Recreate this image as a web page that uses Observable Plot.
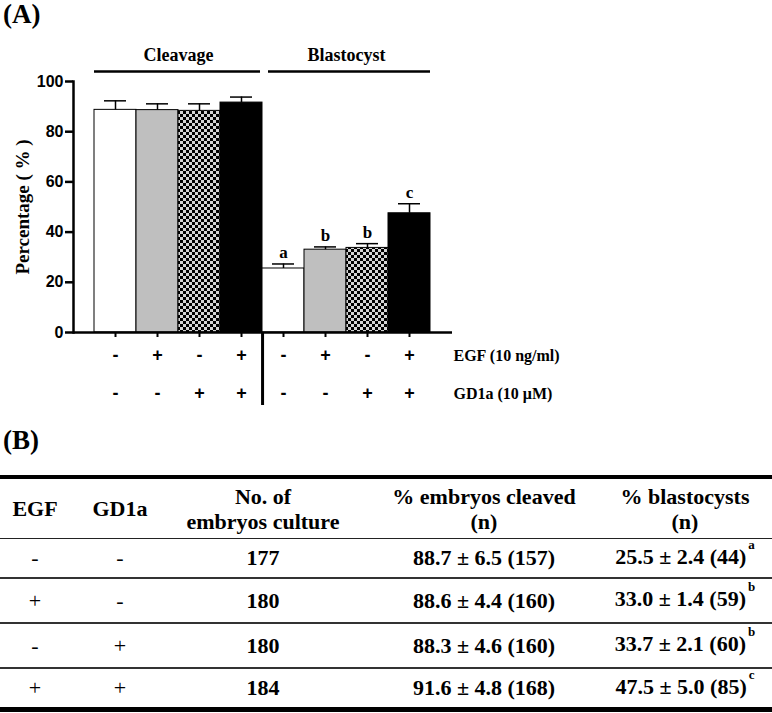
<!DOCTYPE html>
<html>
<head>
<meta charset="utf-8">
<script src="https://cdn.jsdelivr.net/npm/d3@7"></script>
<script src="https://cdn.jsdelivr.net/npm/@observablehq/plot@0.6"></script>
<style>
  html, body { margin: 0; padding: 0; background: #fff; }
  body { width: 772px; height: 713px; position: relative; overflow: hidden;
         font-family: "Liberation Serif", "Times New Roman", serif; color: #000; }
  .panel { position: absolute; left: 3px; font-weight: bold; font-size: 27px; line-height: 1; z-index: 2; }
  #chart { position: absolute; left: 0; top: 0; z-index: 1; }
  table { position: absolute; left: 0; top: 475px; width: 772px; border-collapse: separate;
          border-spacing: 0; table-layout: fixed; font-weight: bold; font-size: 22px; }
  th, td { padding: 0; text-align: center; vertical-align: middle; box-sizing: border-box; }
  thead th { border-top: 4px solid #000; border-bottom: 1.5px solid #222; line-height: 25px; font-weight: bold; }
  tbody td { border-bottom: 2px solid #333; line-height: 24px; }
  tbody tr:last-child td { border-bottom: 5px solid #000; }
  td.sign { font-weight: normal; }
  .lastcol { padding-right: 14px; }
  .sup { font-size: 13px; position: relative; top: -15px; margin-left: 2px; }
</style>
</head>
<body>
<div id="chart"></div>
<div class="panel" id="labA" style="top:1px">(A)</div>
<div class="panel" id="labB" style="top:427px">(B)</div>
<script>
// ---------------- Data ----------------
const groups = ["Cleavage", "Blastocyst"];
const egfSigns = ["-", "+", "-", "+"];
const gd1aSigns = ["-", "-", "+", "+"];
const treatments = ["control", "egf", "gd1a", "both"];
const cleavageMean = [88.7, 88.6, 88.3, 91.6];
const cleavageErr = [3.6, 2.5, 2.8, 2.2];
const blastMean = [25.5, 33.0, 33.7, 47.5];
const blastErr = [1.8, 1.1, 1.7, 3.8];
const blastLetters = ["a", "b", "b", "c"];
const yTicks = [0, 20, 40, 60, 80, 100];
const yLabel = "Percentage ( % )";
const rowLabels = ["EGF (10 ng/ml)", "GD1a (10 \u03bcM)"];

const tableHeaders = ["EGF", "GD1a", "No. of\nembryos culture", "% embryos cleaved\n(n)", "% blastocysts\n(n)"];
const tableEGF = ["-", "+", "-", "+"];
const tableGD1a = ["-", "-", "+", "+"];
const nCultured = [177, 180, 180, 184];
const cleavedPct = [88.7, 88.6, 88.3, 91.6];
const cleavedSD = [6.5, 4.4, 4.6, 4.8];
const cleavedN = [157, 160, 160, 168];
const blastPct = [25.5, 33.0, 33.7, 47.5];
const blastSD = [2.4, 1.4, 2.1, 5.0];
const blastN = [44, 59, 60, 85];
const blastSup = ["a", "b", "b", "c"];

// ---------------- Build rows ----------------
const keys = [], rows = [];
groups.forEach((g, gi) => {
  const means = gi === 0 ? cleavageMean : blastMean;
  const errs = gi === 0 ? cleavageErr : blastErr;
  egfSigns.forEach((s, i) => {
    const key = g + "-" + i;
    keys.push(key);
    rows.push({key, group: g, egf: s, gd1a: gd1aSigns[i], treat: treatments[i],
               value: means[i], err: errs[i], top: means[i] + errs[i],
               letter: gi === 1 ? blastLetters[i] : ""});
  });
});
const groupInfo = groups.map(g => {
  const k = keys.filter(d => d.startsWith(g + "-"));
  return {group: g, first: k[0], last: k[k.length - 1], mid: k[k.length / 2 - 1], yTop: yTicks[yTicks.length - 1]};
});

const W = 772, H = 415, mL = 73, mR = 320, mT = 81, mB = 83;
const xRange = [93, 430];
const bw = (xRange[1] - xRange[0]) / keys.length;
const serif = '"Liberation Serif","Times New Roman",serif';
const sans = '"Liberation Sans",Arial,sans-serif';

const chart = Plot.plot({
  width: W, height: H,
  marginLeft: mL, marginRight: mR, marginTop: mT, marginBottom: mB,
  style: {background: "white", overflow: "visible", color: "black"},
  x: {type: "band", domain: keys, range: xRange, padding: 0},
  y: {domain: [0, 100]},
  color: {type: "ordinal", domain: treatments, range: ["white", "#bfbfbf", "url(#checker)", "black"]},
  marks: [
    Plot.barY(rows, {x: "key", y: "value", fill: "treat", stroke: "black", strokeWidth: 1}),
    Plot.ruleX(rows, {x: "key", y1: "value", y2: "top", stroke: "black", strokeWidth: 1.5}),
    Plot.tickY(rows, {x: "key", y: "top", stroke: "black", strokeWidth: 1.5, insetLeft: 10, insetRight: 10}),
    Plot.text(rows.filter(d => d.letter), {x: "key", y: "top", text: "letter", dy: -11,
      fontFamily: serif, fontWeight: "bold", fontSize: 17}),
    Plot.axisY(yTicks, {tickSize: 8, tickPadding: 2, strokeWidth: 2.5, fontFamily: sans,
      fontWeight: "bold", fontSize: 16, label: null}),
    Plot.frame({anchor: "left", strokeWidth: 2.5}),
    Plot.ruleY([0], {strokeWidth: 2.5}),
    Plot.axisX({tickSize: 5, strokeWidth: 2, tickFormat: () => "", label: null}),
    Plot.text([yLabel], {text: d => d, frameAnchor: "left", textAnchor: "middle", lineAnchor: "middle",
      rotate: -90, dx: -51, fontFamily: serif, fontWeight: "bold", fontSize: 19}),
    // group headers
    Plot.text(groupInfo, {x: "mid", text: "group", frameAnchor: "top", lineAnchor: "middle",
      dx: bw / 2, dy: -26, fontFamily: serif, fontWeight: "bold", fontSize: 18}),
    Plot.ruleY(groupInfo.slice(0, 1), {x1: "first", x2: "last", y: "yTop", dy: -10, strokeWidth: 2.5, insetRight: 2}),
    Plot.ruleY(groupInfo.slice(1), {x1: "first", x2: "last", y: "yTop", dy: -10, strokeWidth: 2.5, insetLeft: 6}),
    // separator below axis
    Plot.ruleX([groupInfo[0].last], {x: d => d, dx: bw / 2, insetTop: H - mT - mB, insetBottom: -73, strokeWidth: 3}),
    // treatment signs
    Plot.text(rows, {x: "key", text: "egf", frameAnchor: "bottom", lineAnchor: "middle", dy: 23,
      fontFamily: sans, fontWeight: "bold", fontSize: 18}),
    Plot.text(rows, {x: "key", text: "gd1a", frameAnchor: "bottom", lineAnchor: "middle", dy: 61,
      fontFamily: sans, fontWeight: "bold", fontSize: 18}),
    Plot.text([rowLabels[0]], {text: d => d, frameAnchor: "bottom-right", textAnchor: "start", lineAnchor: "middle",
      dx: 1, dy: 23, fontFamily: serif, fontWeight: "bold", fontSize: 16}),
    Plot.text([rowLabels[1]], {text: d => d, frameAnchor: "bottom-right", textAnchor: "start", lineAnchor: "middle",
      dx: 1, dy: 61, fontFamily: serif, fontWeight: "bold", fontSize: 16})
  ]
});
const svg = chart.tagName.toLowerCase() === "svg" ? chart : chart.querySelector("svg");
const ns = "http://www.w3.org/2000/svg";
const defs = document.createElementNS(ns, "defs");
const pat = document.createElementNS(ns, "pattern");
pat.setAttribute("id", "checker"); pat.setAttribute("width", 6); pat.setAttribute("height", 6);
pat.setAttribute("patternUnits", "userSpaceOnUse");
[[0, 0, 6, 6, "#d4d4d4"], [0, 0, 3, 3, "#000"], [3, 3, 3, 3, "#000"]].forEach(([x, y, w, h, f]) => {
  const r = document.createElementNS(ns, "rect");
  r.setAttribute("x", x); r.setAttribute("y", y); r.setAttribute("width", w); r.setAttribute("height", h);
  r.setAttribute("fill", f); pat.appendChild(r);
});
defs.appendChild(pat);
svg.insertBefore(defs, svg.firstChild);
document.getElementById("chart").appendChild(chart);

// ---------------- Table (B) ----------------
const colWidths = [70, 100, 186, 256, 160];
const rowHeights = [40, 45, 45, 43];
const table = document.createElement("table");
const cg = document.createElement("colgroup");
colWidths.forEach(w => { const c = document.createElement("col"); c.style.width = w + "px"; cg.appendChild(c); });
table.appendChild(cg);
const thead = document.createElement("thead");
const htr = document.createElement("tr");
htr.style.height = "64px";
tableHeaders.forEach((h, i) => {
  const th = document.createElement("th");
  h.split("\n").forEach((line, j) => {
    if (j) th.appendChild(document.createElement("br"));
    th.appendChild(document.createTextNode(line));
  });
  if (i === tableHeaders.length - 1) th.className = "lastcol";
  htr.appendChild(th);
});
thead.appendChild(htr);
table.appendChild(thead);
const tbody = document.createElement("tbody");
nCultured.forEach((n, i) => {
  const tr = document.createElement("tr");
  tr.style.height = rowHeights[i] + "px";
  const cells = [
    [tableEGF[i], "sign"],
    [tableGD1a[i], "sign"],
    [String(n), ""],
    [`${cleavedPct[i].toFixed(1)} \u00b1 ${cleavedSD[i].toFixed(1)} (${cleavedN[i]})`, ""],
    [`${blastPct[i].toFixed(1)} \u00b1 ${blastSD[i].toFixed(1)} (${blastN[i]})`, "lastcol"]
  ];
  cells.forEach(([t, cls], j) => {
    const td = document.createElement("td");
    if (cls) td.className = cls;
    td.appendChild(document.createTextNode(t));
    if (j === 4) {
      const s = document.createElement("span");
      s.className = "sup"; s.textContent = blastSup[i];
      td.appendChild(s);
    }
    tr.appendChild(td);
  });
  tbody.appendChild(tr);
});
table.appendChild(tbody);
document.body.appendChild(table);
</script>
</body>
</html>
